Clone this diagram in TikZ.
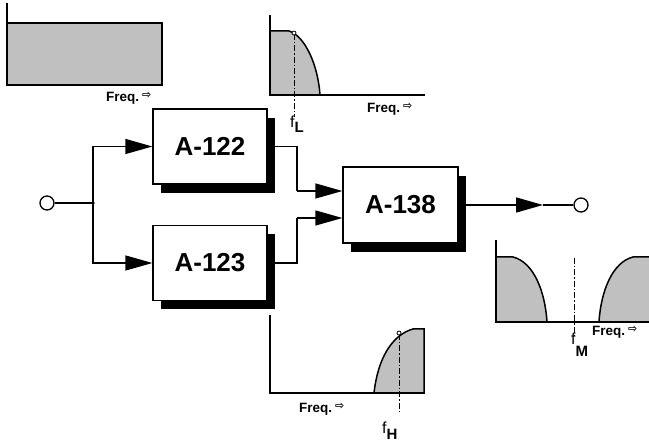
\documentclass[tikz,border=0pt]{standalone}
\usepackage{fontspec}
\setmainfont{Liberation Sans}
\newfontfamily\symfont{DejaVu Sans}
\usetikzlibrary{arrows.meta,shadows}
\definecolor{specgray}{HTML}{C0C0C0}
\newcommand{\freqlabel}{Freq.\hspace{3pt}\raisebox{3pt}{\symfont\fontsize{11}{11}\selectfont ⇨}}
\begin{document}
\begin{tikzpicture}[x=1pt,y=-1pt,
  blk/.style={draw,line width=1.3pt,fill=white,minimum width=114pt,minimum height=75pt,inner sep=0pt,
    font=\fontsize{26}{26}\selectfont\bfseries,
    general shadow={fill=black,shadow xshift=8pt,shadow yshift=-9pt}},
  conn/.style={line width=1.3pt},
  arr/.style={conn,-{Triangle[length=27pt,width=15pt]}},
  ax/.style={line width=1.6pt},
  curv/.style={line width=1.5pt},
  ddot/.style={line width=1pt,dash pattern=on 6pt off 2pt on 1.5pt off 2pt},
  freq/.style={font=\fontsize{13.5}{13.5}\selectfont\bfseries,inner sep=0pt,anchor=base west},
  flab/.style={font=\fontsize{16}{16}\selectfont,inner sep=0pt,anchor=base west},
  port/.style={circle,draw,line width=1.3pt,fill=white,minimum size=14pt,inner sep=0pt}
]
\useasboundingbox (0,0) rectangle (649,443);

% ---- spectrum 1 (input, flat)
\fill[specgray] (7,23) rectangle (162,85);
\draw[ax] (7,3) -- (7,85) -- (162,85) -- (162,23) -- (7,23);
\node[freq] (fq1) at (106,102) {\freqlabel};

% ---- spectrum 2 (low pass)
\fill[specgray] (270,31) -- (289,31) .. controls (305,36) and (318,65) .. (320,95) -- (270,95) -- cycle;
\draw[curv] (270,31) -- (289,31) .. controls (305,36) and (318,65) .. (320,95);
\draw[ax] (270,15) -- (270,95) -- (425,95);
\draw[ddot] (294,34) -- (294,117);
\draw[line width=0.8pt,fill=white] (294,33) circle (2pt);
\node[freq] (fq2) at (367,113) {\freqlabel};
\node[flab] (fl) at (290,128) {f\raisebox{-5pt}{\fontsize{15}{15}\selectfont\bfseries L}};

% ---- spectrum 3 (high pass)
\fill[specgray] (374,393) .. controls (378,358) and (392,335) .. (413,329) -- (424,329) -- (424,393) -- cycle;
\draw[curv] (374,393) .. controls (378,358) and (392,335) .. (413,329) -- (424,329) -- (424,393);
\draw[ax] (270,315) -- (270,393) -- (425,393);
\draw[ddot] (399,334) -- (399,413);
\draw[line width=0.8pt,fill=white] (399,333) circle (2pt);
\node[freq] (fq3) at (299,413) {\freqlabel};
\node[flab] (fh) at (382,434) {f\raisebox{-6pt}{\fontsize{15}{15}\selectfont\bfseries H}};

% ---- spectrum 4 (output, band stop)
\fill[specgray] (496,257) -- (513,257) .. controls (533,262) and (545,290) .. (547,322) -- (496,322) -- cycle;
\draw[curv] (496,257) -- (513,257) .. controls (533,262) and (545,290) .. (547,322);
\fill[specgray] (599,322) .. controls (601,290) and (613,262) .. (633,257) -- (649,257) -- (649,322) -- cycle;
\draw[curv] (599,322) .. controls (601,290) and (613,262) .. (633,257) -- (649,257);
\draw[ax] (496,240) -- (496,322) -- (649,322);
\draw[ddot] (574,258) -- (574,336);
\node[freq] (fq4) at (592,336) {\freqlabel};
\node[flab] (fm) at (571,345) {f\raisebox{-12pt}{\fontsize{15}{15}\selectfont\bfseries M}};

% ---- blocks
\node[blk] (a122) at (210,146.5) {A-122};
\node[blk] (a123) at (210,263) {A-123};
\node[blk,minimum width=115pt,minimum height=76pt] (a138) at (400.5,205) {A-138};

% ---- ports and connectors
\node[port] (in) at (47,203) {};
\node[port] (out) at (581,205) {};
\coordinate (j) at (93,203);
\coordinate (k1) at (297,191);
\coordinate (k2) at (297,218);
\coordinate (mid) at (543,205);

\draw[conn] (in) -- (j);
\fill (j) circle (1.8pt);
\draw[arr] (j) |- (a122.west);
\draw[arr] (j) |- (a123.west);
\draw[conn] (a122.east) -| (k1);
\draw[arr] (k1) -- ([yshift=14pt]a138.west);
\draw[conn] (a123.east) -| (k2);
\draw[arr] (k2) -- ([yshift=-13pt]a138.west);
\draw[arr] (a138.east) -- (mid);
\draw[conn] (mid) -- (out);
\end{tikzpicture}
\end{document}
